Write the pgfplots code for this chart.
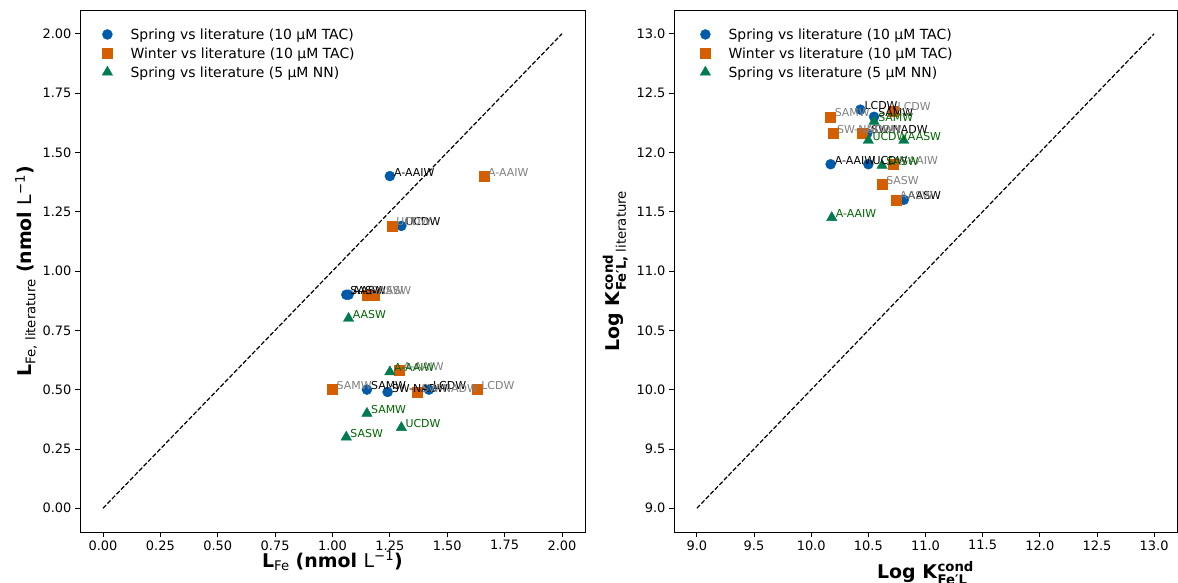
\documentclass[border=0pt]{standalone}
\usepackage{amsmath}
\usepackage{fontspec}
\setmainfont{DejaVu Sans}
\usepackage{pgfplots}
\usepackage{pgfplotstable}
\pgfplotsset{compat=1.18}

\definecolor{cblue}{RGB}{0,90,170}
\definecolor{corange}{RGB}{213,94,0}
\definecolor{cgreen}{RGB}{0,122,80}
\definecolor{lgray}{RGB}{128,128,128}
\definecolor{lgreen}{RGB}{0,100,0}

% Left panel: L_Fe
\pgfplotstableread{
x y label
1.25 1.40 A-AAIW
1.30 1.19 UCDW
1.06 0.90 SASW
1.07 0.90 AASW
1.15 0.50 SAMW
1.24 0.49 SW-NADW
1.42 0.50 LCDW
}\LBlue
\pgfplotstableread{
x y label
1.66 1.40 A-AAIW
1.26 1.19 UCDW
1.15 0.90 SASW
1.18 0.90 AASW
1.29 0.58 A-AAIW
1.00 0.50 SAMW
1.37 0.49 SW-NADW
1.63 0.50 LCDW
}\LOrange
\pgfplotstableread{
x y label
1.07 0.80 AASW
1.25 0.575 A-AAIW
1.15 0.40 SAMW
1.30 0.34 UCDW
1.06 0.30 SASW
}\LGreen

% Right panel: log K
\pgfplotstableread{
x y label
10.43 12.36 LCDW
10.55 12.30 SAMW
10.49 12.16 SW-NADW
10.17 11.90 A-AAIW
10.50 11.90 UCDW
10.81 11.60 AASW
}\RBlue
\pgfplotstableread{
x y label
10.17 12.30 SAMW
10.72 12.35 LCDW
10.19 12.16 SW-NADW
10.45 12.16 UCDW
10.72 11.90 A-AAIW
10.62 11.73 SASW
10.74 11.60 AASW
}\ROrange
\pgfplotstableread{
x y label
10.55 12.26 SAMW
10.50 12.10 UCDW
10.81 12.10 AASW
10.62 11.89 SASW
10.18 11.45 A-AAIW
}\RGreen

\pgfplotsset{
  myaxis/.style={
    scale only axis,
    anchor=south west,
    height=522bp,
    axis line style={line width=0.8bp, black},
    tick align=outside,
    tick pos=left,
    major tick length=5bp,
    every tick/.style={black, line width=0.8bp},
    ticklabel style={font=\fontsize{13}{15}\selectfont, black},
    /pgf/number format/assume math mode=true,
    every axis x label/.style={at={(axis description cs:0.5,0)}, anchor=base, inner sep=0pt, font=\fontsize{19}{22}\selectfont},
    every axis y label/.style={at={(axis description cs:0,0.5)}, rotate=90, anchor=south, inner sep=0pt, font=\fontsize{19}{22}\selectfont},
    legend cell align=left,
    legend style={draw=none, fill=none, at={(axis description cs:0,1)}, anchor=north west,
      yshift=-19bp, inner sep=0pt, row sep=5bp, column sep=18bp,
      font=\fontsize{14}{16}\selectfont,
      nodes={inner sep=0pt, text height=10.5bp, text depth=3bp}},
    legend image code/.code={\draw[mark repeat=2,mark phase=2] plot coordinates {(-12bp,1.5bp)(0bp,1.5bp)(12bp,1.5bp)};},
  },
  sblue/.style={only marks, mark=*, mark size=5bp, color=cblue, mark options={fill=cblue, draw=cblue}},
  sorange/.style={only marks, mark=square*, mark size=5bp, color=corange, mark options={fill=corange, draw=corange}},
  sgreen/.style={only marks, mark=triangle*, mark size=6bp, color=cgreen, mark options={fill=cgreen, draw=cgreen}},
  lab/.style={draw=none, mark=none, forget plot, point meta=explicit symbolic,
    nodes near coords,
    every node near coord/.append style={anchor=base west, inner sep=0pt, xshift=4bp, font=\fontsize{11}{13}\selectfont, text=#1}},
  refline/.style={black, line width=1.2bp, dash pattern=on 4.5bp off 2bp, forget plot},
}

\begin{document}
\begin{tikzpicture}
\useasboundingbox (0,0) rectangle (1178bp,583bp);
\begin{axis}[myaxis, at={(80bp,51bp)}, width=505bp,
  xmin=-0.1, xmax=2.1, ymin=-0.1, ymax=2.1,
  xtick={0,0.25,0.5,0.75,1,1.25,1.5,1.75,2},
  ytick={0,0.25,0.5,0.75,1,1.25,1.5,1.75,2},
  xticklabel style={/pgf/number format/.cd, fixed, fixed zerofill, precision=2},
  yticklabel style={/pgf/number format/.cd, fixed, fixed zerofill, precision=2},
  xlabel={\textbf{L}\textsubscript{Fe} \textbf{(nmol }L\textsuperscript{−1}\textbf{)}},
  ylabel={\textbf{L}\textsubscript{Fe, literature} \textbf{(nmol }L\textsuperscript{−1}\textbf{)}},
  every axis x label/.append style={yshift=-35bp},
  every axis y label/.append style={yshift=43bp},
  legend style={xshift=22bp},
]
\addplot[refline] coordinates {(0,0) (2,2)};
\addplot[sblue] table[x=x,y=y] {\LBlue};
\addlegendentry{Spring vs literature (10 µM TAC)}
\addplot[sorange] table[x=x,y=y] {\LOrange};
\addlegendentry{Winter vs literature (10 µM TAC)}
\addplot[sgreen] table[x=x,y=y] {\LGreen};
\addlegendentry{Spring vs literature (5 µM NN)}
\addplot[lab=black] table[x=x,y=y,meta=label] {\LBlue};
\addplot[lab=lgray] table[x=x,y=y,meta=label] {\LOrange};
\addplot[lab=lgreen] table[x=x,y=y,meta=label] {\LGreen};
\end{axis}

\begin{axis}[myaxis, at={(674bp,51bp)}, width=503bp,
  xmin=8.8, xmax=13.2, ymin=8.8, ymax=13.2,
  xtick={9,9.5,10,10.5,11,11.5,12,12.5,13},
  ytick={9,9.5,10,10.5,11,11.5,12,12.5,13},
  xticklabel style={/pgf/number format/.cd, fixed, fixed zerofill, precision=1},
  yticklabel style={/pgf/number format/.cd, fixed, fixed zerofill, precision=1},
  xlabel={\textbf{Log K}$^{\textbf{cond}}_{\textbf{Fe′L}}$},
  ylabel={\textbf{Log K}$^{\textbf{cond}}_{\textbf{Fe′L,}\text{ literature}}$},
  every axis x label/.append style={yshift=-46bp},
  every axis y label/.append style={yshift=46bp},
  legend style={xshift=26bp},
]
\addplot[refline] coordinates {(9,9) (13,13)};
\addplot[sblue] table[x=x,y=y] {\RBlue};
\addlegendentry{Spring vs literature (10 µM TAC)}
\addplot[sorange] table[x=x,y=y] {\ROrange};
\addlegendentry{Winter vs literature (10 µM TAC)}
\addplot[sgreen] table[x=x,y=y] {\RGreen};
\addlegendentry{Spring vs literature (5 µM NN)}
\addplot[lab=black] table[x=x,y=y,meta=label] {\RBlue};
\addplot[lab=lgray] table[x=x,y=y,meta=label] {\ROrange};
\addplot[lab=lgreen] table[x=x,y=y,meta=label] {\RGreen};
\end{axis}
\end{tikzpicture}
\end{document}
